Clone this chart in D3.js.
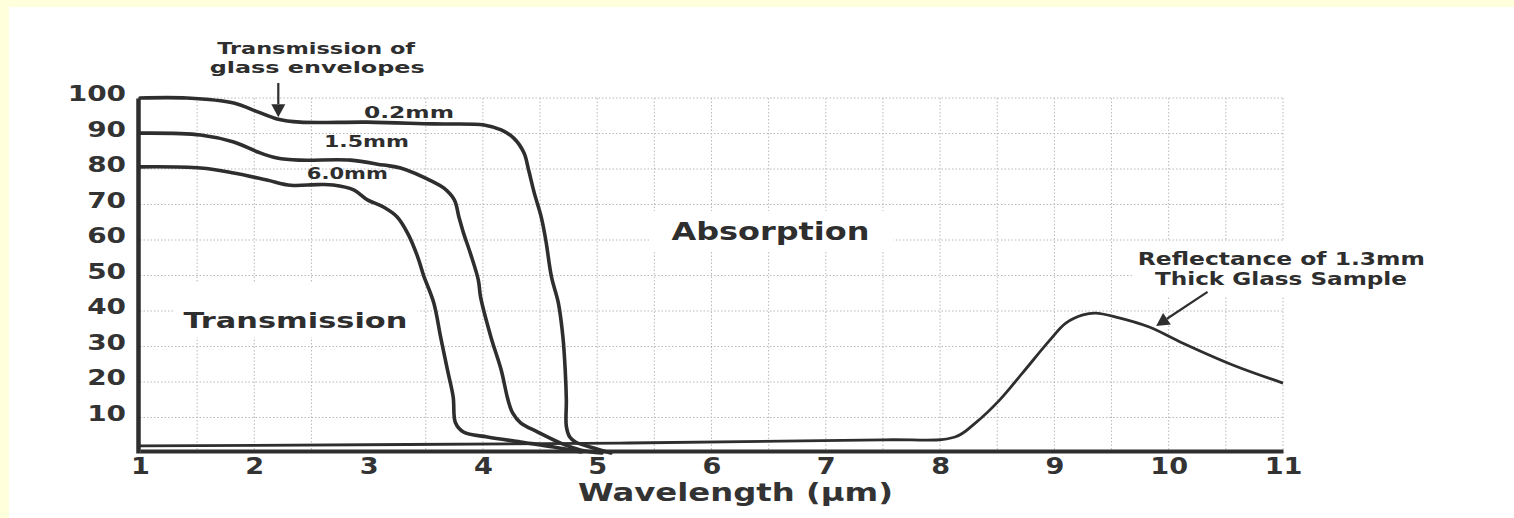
<!DOCTYPE html>
<html><head><meta charset="utf-8">
<script src="https://cdn.jsdelivr.net/npm/d3@7"></script>
<style>
html,body{margin:0;padding:0;background:#fff;}
svg{display:block;}
</style></head><body>
<svg id="c" width="1514" height="518"></svg>
<script>
// ---- data ----
const xTicks = [1,2,3,4,5,6,7,8,9,10,11];
const yTicks = [10,20,30,40,50,60,70,80,90,100];
const xGrid = [1.5,2,2.5,3.5,4,4.5,5,5.5,6,6.5,7,7.5,8,8.5,9,9.5,10,10.5,11];

const trans02 = [[1.00,100],[1.41,100],[1.82,98.6],[2.03,96.1],[2.20,94.1],[2.40,93.2],[2.99,93.2],[3.57,92.7],[4.01,92.4],[4.16,91.0],[4.27,88.7],[4.36,84.5],[4.40,79.7],[4.45,73.2],[4.51,66.5],[4.55,60.0],[4.60,49.6],[4.66,42.3],[4.70,32.7],[4.72,23.4],[4.73,14.9],[4.73,7.5],[4.76,4.5],[4.81,3.1],[4.97,1.4],[5.12,0.0]];
const trans15 = [[1.00,90.1],[1.53,89.6],[1.82,87.6],[2.03,84.8],[2.20,83.1],[2.40,82.5],[2.84,82.5],[3.13,81.1],[3.28,80.3],[3.57,76.3],[3.66,74.6],[3.75,71.3],[3.79,66.5],[3.83,62.0],[3.89,56.3],[3.96,48.7],[3.98,43.9],[4.07,32.7],[4.16,23.4],[4.22,14.9],[4.26,11.3],[4.33,8.5],[4.48,5.9],[4.68,2.8],[4.86,0.8],[5.04,0.0]];
const trans60 = [[1.00,80.6],[1.53,80.3],[1.82,78.9],[2.11,76.9],[2.32,75.4],[2.55,75.6],[2.69,75.5],[2.87,74.1],[2.99,71.3],[3.13,69.3],[3.25,66.5],[3.34,62.0],[3.43,55.2],[3.48,50.1],[3.57,42.3],[3.63,32.7],[3.69,23.4],[3.74,15.8],[3.76,8.5],[3.83,5.9],[4.04,4.5],[4.33,3.1],[4.62,1.7],[4.86,0.3]];
const reflect13 = [[1.00,2.0],[5.20,2.8],[7.50,3.7],[8.13,4.5],[8.31,8.5],[8.52,14.9],[8.72,22.5],[8.96,31.8],[9.10,36.6],[9.25,38.9],[9.36,39.4],[9.54,38.3],[9.83,35.5],[10.12,31.0],[10.56,24.8],[11.0,19.7]];

const curveLabels = ["0.2mm","1.5mm","6.0mm"];
const xTitle = "Wavelength (µm)";

// ---- layout ----
const svg = d3.select("#c");
const W = 1514, H = 518;
const ink = "#2e2e2e";
const FONT = "DejaVu Sans, sans-serif";

svg.append("rect").attr("width",W).attr("height",H).attr("fill","#fff");
svg.append("rect").attr("x",0).attr("y",0).attr("width",W).attr("height",7).attr("fill","#FFFFDC");
svg.append("rect").attr("x",0).attr("y",0).attr("width",9).attr("height",H).attr("fill","#FFFFDC");

const x = d3.scaleLinear().domain([1,11]).range([140,1283]);
const y = d3.scaleLinear().domain([0,100]).range([453,98]);

function fit(sel, w){ sel.attr("textLength", w).attr("lengthAdjust","spacingAndGlyphs"); return sel; }
function stretch(sel, f){ sel.each(function(){ const n=this.getComputedTextLength(); d3.select(this).attr("textLength", n*f).attr("lengthAdjust","spacingAndGlyphs"); }); }

// grid
const grid = svg.append("g").attr("stroke","#b8b8b8").attr("stroke-width",1).attr("stroke-dasharray","1.5,2");
grid.selectAll("line.h").data(yTicks).join("line").attr("class","h")
  .attr("x1",x(1)).attr("x2",x(11)).attr("y1",d=>y(d)).attr("y2",d=>y(d));
grid.selectAll("line.v").data(xGrid).join("line").attr("class","v")
  .attr("x1",d=>x(d)).attr("x2",d=>x(d)).attr("y1",y(0)).attr("y2",y(100));

// label boxes (white) + labels
function boxedText(txt, xd, yd, size, w, pad){
  const g = svg.append("g");
  const r = g.append("rect").attr("fill","#fff");
  const t = g.append("text").attr("x",x(xd)).attr("y",y(yd)).attr("font-family",FONT).attr("font-weight","bold")
    .attr("font-size",size).attr("fill",ink).text(txt);
  fit(t,w);
  if(pad){
    const b = t.node().getBBox();
    r.attr("x",b.x-pad[0]).attr("y",b.y-pad[1]).attr("width",b.width+pad[0]+pad[2]).attr("height",b.height+pad[1]+pad[3]);
  }
  return t;
}
boxedText("Absorption", 5.65, 60.0, 25, 198, [22,6,24,4]);
boxedText("Transmission", 1.38, 35.2, 22, 224, [10,26,10,4]);
const rg = svg.append("g");
const rr = rg.append("rect").attr("fill","#fff");
fit(rg.append("text").attr("x",x(9.73)).attr("y",265).attr("font-family",FONT).attr("font-weight","bold").attr("font-size",17).attr("fill",ink).text("Reflectance of 1.3mm"),287);
fit(rg.append("text").attr("x",x(9.88)).attr("y",285).attr("font-family",FONT).attr("font-weight","bold").attr("font-size",17).attr("fill",ink).text("Thick Glass Sample"),252);
rr.attr("x",x(9.73)-6).attr("y",y(59.7)).attr("width",300).attr("height",y(44.3)-y(59.7));

// curves
const line = d3.line().x(d=>x(d[0])).y(d=>y(d[1])).curve(d3.curveCatmullRom.alpha(0.5));
const series = [trans02, trans15, trans60];
svg.append("g").selectAll("path").data(series).join("path")
  .attr("d",line).attr("fill","none").attr("stroke",ink).attr("stroke-width",3.6)
  .attr("stroke-linejoin","round").attr("stroke-linecap","round");
svg.append("path").datum(reflect13).attr("d",line).attr("fill","none").attr("stroke",ink)
  .attr("stroke-width",2.8).attr("stroke-linejoin","round");

// axes
const yAxis = svg.append("g").attr("transform",`translate(${x(1)-2},0)`)
  .call(d3.axisLeft(y).tickValues(yTicks).tickSize(0).tickSizeOuter(0).tickPadding(12));
yAxis.select(".domain").attr("stroke",ink).attr("stroke-width",4.5);
yAxis.selectAll("text").attr("font-family",FONT).attr("font-weight","bold").attr("font-size",21)
  .attr("fill","#333").attr("dy","0.12em");
stretch(yAxis.selectAll("text"),1.33);

const xAxis = svg.append("g").attr("transform",`translate(0,${y(0)-2})`)
  .call(d3.axisBottom(x).tickValues(xTicks).tickSize(0).tickSizeOuter(0).tickPadding(7).tickFormat(d3.format("d")));
xAxis.select(".domain").attr("stroke",ink).attr("stroke-width",4);
xAxis.selectAll("text").attr("font-family",FONT).attr("font-weight","bold").attr("font-size",23).attr("fill","#333");
stretch(xAxis.selectAll("text"),1.18);

fit(svg.append("text").attr("x",x(6.21)).attr("y",501).attr("text-anchor","middle").attr("font-family",FONT)
  .attr("font-weight","bold").attr("font-size",25).attr("fill","#333").text(xTitle),315);

// curve labels
const labPos = [[2.96,94.4,90],[2.61,86.2,85],[2.46,77.2,81]];
curveLabels.forEach((s,i)=>{
  fit(svg.append("text").attr("x",x(labPos[i][0])).attr("y",y(labPos[i][1])).attr("font-family",FONT)
    .attr("font-weight","bold").attr("font-size",16).attr("fill",ink).text(s), labPos[i][2]);
});

// top annotation
fit(svg.append("text").attr("x",x(1.675)).attr("y",54).attr("font-family",FONT).attr("font-weight","bold")
  .attr("font-size",16).attr("fill",ink).text("Transmission of"),198);
fit(svg.append("text").attr("x",x(1.61)).attr("y",73).attr("font-family",FONT).attr("font-weight","bold")
  .attr("font-size",16).attr("fill",ink).text("glass envelopes"),215);

// arrows
function arrow(x1,y1,x2,y2){
  const a = Math.atan2(y2-y1,x2-x1), L=13, Wd=7;
  const bx = x2 - L*Math.cos(a), by = y2 - L*Math.sin(a);
  svg.append("line").attr("x1",x1).attr("y1",y1).attr("x2",bx).attr("y2",by).attr("stroke",ink).attr("stroke-width",2.2);
  const p = [[x2,y2],[bx + Wd*Math.sin(a), by - Wd*Math.cos(a)],[bx - Wd*Math.sin(a), by + Wd*Math.cos(a)]];
  svg.append("path").attr("d","M"+p.map(q=>q.join(",")).join("L")+"Z").attr("fill",ink);
}
arrow(x(2.21), 83, x(2.21), y(94.6));
arrow(x(10.34), y(45.4), x(9.89), y(35.8));
</script>
</body></html>
